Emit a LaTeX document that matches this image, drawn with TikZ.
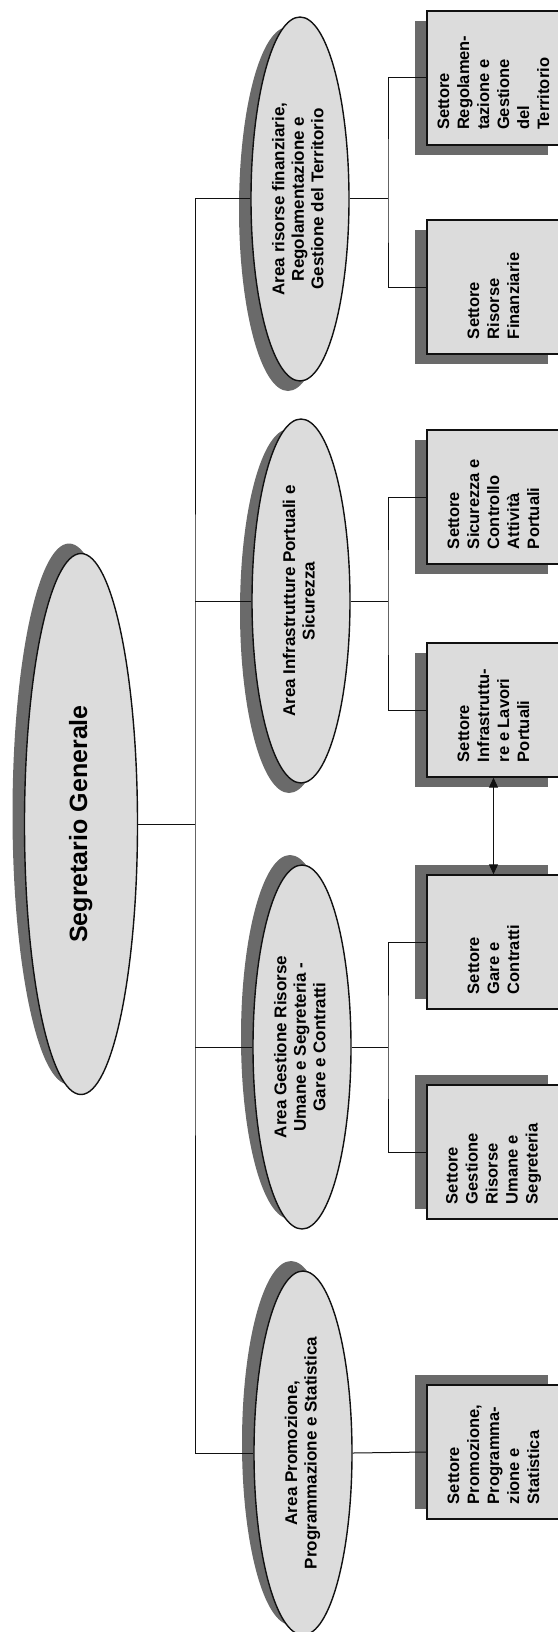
\documentclass[tikz,border=0pt]{standalone}
\usepackage{fontspec}
\setmainfont{Liberation Sans}
\usepackage{graphicx}
\usetikzlibrary{arrows.meta,shadows,shapes.geometric}
\definecolor{Ink}{HTML}{111111}
\definecolor{Stipple}{HTML}{DCDCDC}
\definecolor{Shade}{HTML}{6A6A6A}
\newcommand{\upcenter}[1]{\rotatebox{90}{\begin{tabular}{@{}c@{}}#1\end{tabular}}}
\newcommand{\upleft}[1]{\rotatebox{90}{\begin{minipage}{104pt}\raggedright #1\end{minipage}}\hspace{12pt}}
\tikzset{
  link/.style={line width=1pt,draw=Ink},
  duplex/.style={{Triangle[length=10pt,width=9pt]}-{Triangle[length=10pt,width=9pt]},line width=1pt,draw=Ink},
  shadowup/.style={drop shadow={shadow xshift=-12pt,shadow yshift=10pt,fill=Shade,opacity=1}},
  shadowdown/.style={drop shadow={shadow xshift=-12pt,shadow yshift=-10pt,fill=Shade,opacity=1}},
  headoval/.style={ellipse,draw=Ink,line width=1.4pt,fill=Stipple,inner sep=0pt,
    minimum width=113pt,minimum height=541pt,font=\fontsize{25}{30}\selectfont\bfseries},
  areaoval/.style={ellipse,draw=Ink,line width=1.4pt,fill=Stipple,inner sep=0pt,
    minimum width=98pt,minimum height=364pt,font=\fontsize{17}{19.5}\selectfont\bfseries},
  sectorbox/.style={rectangle,draw=Ink,line width=1.4pt,fill=Stipple,inner sep=0pt,
    minimum width=133pt,minimum height=134pt,font=\fontsize{16.5}{20}\selectfont\bfseries},
}
\begin{document}
\begin{tikzpicture}[x=1pt,y=-1pt]
    \useasboundingbox (0,0) rectangle (557,1632);

    \node[headoval,shadowup] (seg) at (81,824) {\upcenter{Segretario Generale}};

    \node[areaoval,shadowdown] (area4) at (300,199) {\upcenter{Area risorse finanziarie,\\Regolamentazione e\\Gestione del Territorio}};
    \node[areaoval,shadowdown] (area3) at (301,601) {\upcenter{Area Infrastrutture Portuali e\\Sicurezza}};
    \node[areaoval,shadowup] (area2) at (302,1047) {\upcenter{Area Gestione Risorse\\Umane e Segreteria -\\Gare e Contratti}};
    \node[areaoval,shadowup] (area1) at (303,1453) {\upcenter{Area Promozione,\\Programmazione e Statistica}};

    \node[sectorbox,shadowdown] (regol) at (493.5,78) {\upleft{Settore\\Regolamen-\\tazione e\\Gestione\\del\\Territorio}};
    \node[sectorbox,shadowdown] (finanz) at (493.5,287) {\upleft{Settore\\Risorse\\Finanziarie}};
    \node[sectorbox,shadowdown] (sicur) at (493.5,497) {\upleft{Settore\\Sicurezza e\\Controllo\\Attività\\Portuali}};
    \node[sectorbox,shadowdown] (infra) at (493.5,710) {\upleft{Settore\\Infrastruttu-\\re e Lavori\\Portuali}};
    \node[sectorbox,shadowup] (gare) at (493.5,942) {\upleft{Settore\\Gare e\\Contratti}};
    \node[sectorbox,shadowup] (gestione) at (493.5,1152) {\upleft{Settore\\Gestione\\Risorse\\Umane e\\Segreteria}};
    \node[sectorbox,shadowup] (promoz) at (493.5,1452) {\upleft{Settore\\Promozione,\\Programma-\\zione e\\Statistica}};

    \coordinate (trunk) at (195,824);
    \draw[link] (seg.east) -- (trunk);
    \draw[link] (area4.west) -| (trunk) |- (area1.west);
    \draw[link] (area3.west) -- (area3.west -| trunk);
    \draw[link] (area2.west) -- (area2.west -| trunk);

    \coordinate (fork4) at (388,199);
    \coordinate (fork3) at (388,601);
    \coordinate (fork2) at (388,1047);
    \draw[link] (area4.east) -- (fork4);
    \draw[link] (regol.west) -| (fork4) |- (finanz.west);
    \draw[link] (area3.east) -- (fork3);
    \draw[link] (sicur.west) -| (fork3) |- (infra.west);
    \draw[link] (area2.east) -- (fork2);
    \draw[link] (gare.west) -| (fork2) |- (gestione.west);
    \draw[link] (area1.east) -- (promoz.west);

    \draw[duplex] (infra.south) -- (gare.north);
  \end{tikzpicture}
\end{document}
